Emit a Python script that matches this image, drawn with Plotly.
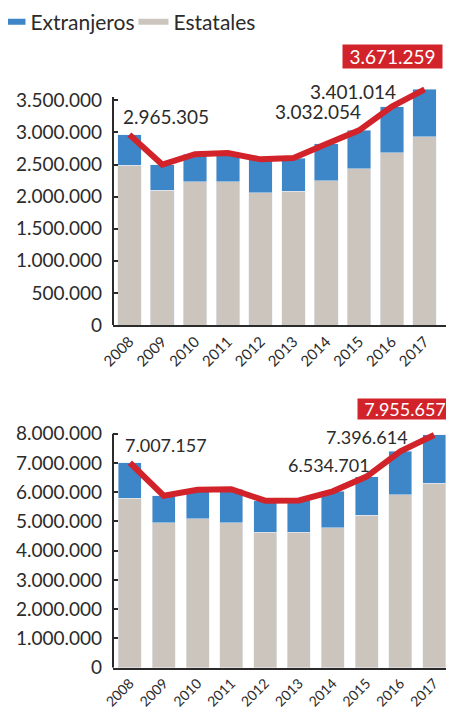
import plotly.graph_objects as go

years = ["2008", "2009", "2010", "2011", "2012", "2013", "2014", "2015", "2016", "2017"]

# Top chart (values)
top_total = [2965305, 2500000, 2660000, 2680000, 2580000, 2600000, 2820000, 3032054, 3401014, 3671259]
top_estatales = [2490000, 2100000, 2230000, 2230000, 2060000, 2080000, 2250000, 2430000, 2680000, 2930000]
top_labeled = [0, 7, 8, 9]

# Bottom chart (values)
bot_total = [7007157, 5880000, 6080000, 6100000, 5710000, 5720000, 6030000, 6534701, 7396614, 7955657]
bot_estatales = [5790000, 4950000, 5100000, 4950000, 4630000, 4630000, 4780000, 5220000, 5920000, 6300000]
bot_labeled = [0, 7, 8, 9]

top_extr = [t - e for t, e in zip(top_total, top_estatales)]
bot_extr = [t - e for t, e in zip(bot_total, bot_estatales)]

BLUE = "#3d86c7"
GRAY = "#ccc5be"
RED = "#d2232a"
DARK = "#2b2b2b"
FONT = "Lato"

W, H = 438, 701   # page body has an 8px margin inside the 454x717 window
OFF = 8

def fmt(v):
    return f"{v:,}".replace(",", ".")

fig = go.Figure()

# legend entries
fig.add_trace(go.Scatter(x=[None], y=[None], mode="lines", line=dict(color=BLUE, width=6),
                         name="Extranjeros", xaxis="x", yaxis="y"))
fig.add_trace(go.Scatter(x=[None], y=[None], mode="lines", line=dict(color=GRAY, width=6),
                         name="Estatales", xaxis="x", yaxis="y"))

# top bars
fig.add_trace(go.Bar(x=years, y=top_estatales, marker_color=GRAY, width=0.72,
                     name="Estatales", showlegend=False, xaxis="x", yaxis="y"))
fig.add_trace(go.Bar(x=years, y=top_extr, marker_color=BLUE, width=0.72,
                     name="Extranjeros", showlegend=False, xaxis="x", yaxis="y"))
fig.add_trace(go.Scatter(x=years, y=top_total, mode="lines", line=dict(color=RED, width=6),
                         showlegend=False, xaxis="x", yaxis="y"))
# bottom bars
fig.add_trace(go.Bar(x=years, y=bot_estatales, marker_color=GRAY, width=0.68,
                     name="Estatales", showlegend=False, xaxis="x2", yaxis="y2"))
fig.add_trace(go.Bar(x=years, y=bot_extr, marker_color=BLUE, width=0.68,
                     name="Extranjeros", showlegend=False, xaxis="x2", yaxis="y2"))
fig.add_trace(go.Scatter(x=years, y=bot_total, mode="lines", line=dict(color=RED, width=6),
                         showlegend=False, xaxis="x2", yaxis="y2"))

top_y0 = 1 - (325 - OFF) / H
bot_y0 = 1 - (667.7 - OFF) / H
x0 = (113 - OFF) / W

axis_common = dict(showgrid=False, zeroline=False, automargin=False)
ytick = dict(size=19, family=FONT, color=DARK)
fig.update_layout(
    width=W, height=H,
    margin=dict(l=0, r=0, t=0, b=0, autoexpand=False),
    paper_bgcolor="white", plot_bgcolor="white",
    barmode="stack",
    separators=",.",
    font=dict(family=FONT, color=DARK, size=18),
    legend=dict(orientation="h", x=-0.04, y=1.009, xanchor="left", yanchor="top",
                traceorder="normal", entrywidth=98, entrywidthmode="pixels",
                font=dict(size=21, family=FONT, color=DARK), itemwidth=30,
                tracegroupgap=0, bgcolor="rgba(0,0,0,0)"),
    xaxis=dict(type="category", domain=[x0, 1], anchor="y", range=[-0.5, 9.65], tickangle=-45,
               showline=True, linecolor=DARK, linewidth=2, ticks="",
               tickfont=dict(size=15, family=FONT, color=DARK), **axis_common),
    yaxis=dict(domain=[top_y0, top_y0 + 3.8 * 64.2 / H], anchor="x", range=[0, 3.8e6],
               tickvals=[0, 500000, 1000000, 1500000, 2000000, 2500000, 3000000, 3500000],
               tickformat=",d", ticks="inside", ticklen=5, tickcolor=DARK, tickwidth=2,
               showline=False, ticklabelstandoff=10, tickfont=ytick, **axis_common),
    xaxis2=dict(type="category", domain=[x0, 1], anchor="y2", range=[-0.5, 9.35], tickangle=-45,
                showline=True, linecolor=DARK, linewidth=2, ticks="",
                tickfont=dict(size=14, family=FONT, color=DARK), **axis_common),
    yaxis2=dict(domain=[bot_y0, bot_y0 + 8.3 * 29.25 / H], anchor="x2", range=[0, 8.3e6],
                tickvals=[0, 1e6, 2e6, 3e6, 4e6, 5e6, 6e6, 7e6, 8e6],
                tickformat=",d", ticks="inside", ticklen=5, tickcolor=DARK, tickwidth=2,
                showline=False, ticklabelstandoff=10, tickfont=ytick, **axis_common),
)

# y axis lines
fig.add_shape(type="line", xref="x domain", yref="y", x0=0, x1=0, y0=0, y1=3.55e6,
              line=dict(color=DARK, width=2))
fig.add_shape(type="line", xref="x2 domain", yref="y2", x0=0, x1=0, y0=0, y1=8.0e6,
              line=dict(color=DARK, width=2))

# value labels, top chart
top_offsets = {0: ("left", -8.4, 18), 7: ("right", 4, 18.6), 8: ("right", 6, 15)}
for i in top_labeled:
    if i == 9:
        fig.add_annotation(x=i, y=top_total[i], xref="x", yref="y",
                           text=fmt(top_total[i]), showarrow=False, xanchor="center",
                           xshift=-32.6, yshift=32.6, bgcolor=RED, borderpad=2,
                           width=95, height=19, align="center",
                           font=dict(size=19, color="white", family=FONT))
    else:
        xa, xs, ys = top_offsets[i]
        fig.add_annotation(x=i, y=top_total[i], xref="x", yref="y",
                           text=fmt(top_total[i]), showarrow=False, xanchor=xa,
                           xshift=xs, yshift=ys, font=dict(size=19, color=DARK, family=FONT))

# value labels, bottom chart
bot_offsets = {0: ("left", -7, 17.4), 7: ("right", 5.5, 11.3), 8: ("right", 9.7, 14.3)}
for i in bot_labeled:
    if i == 9:
        fig.add_annotation(x=i, y=bot_total[i], xref="x2", yref="y2",
                           text=fmt(bot_total[i]), showarrow=False, xanchor="center",
                           xshift=-29, yshift=26.3, bgcolor=RED, borderpad=2,
                           width=90, height=16, align="center",
                           font=dict(size=18, color="white", family=FONT))
    else:
        xa, xs, ys = bot_offsets[i]
        fig.add_annotation(x=i, y=bot_total[i], xref="x2", yref="y2",
                           text=fmt(bot_total[i]), showarrow=False, xanchor=xa,
                           xshift=xs, yshift=ys, font=dict(size=18, color=DARK, family=FONT))

fig.write_html("out.html")
